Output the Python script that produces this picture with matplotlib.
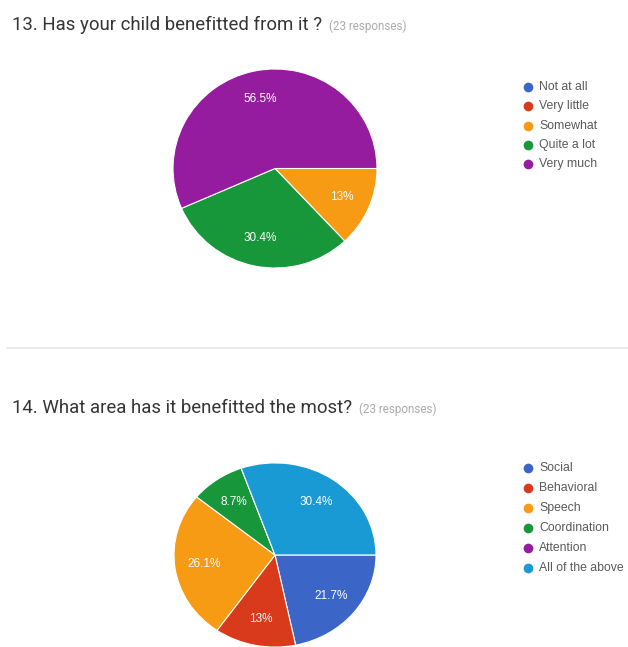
import matplotlib
matplotlib.use("Agg")
import matplotlib.pyplot as plt
from matplotlib.lines import Line2D

plt.rcParams['font.family'] = ['Roboto', 'DejaVu Sans']

# Question 13
q1_title = "13. Has your child benefitted from it ?"
q1_labels = ['Not at all', 'Very little', 'Somewhat', 'Quite a lot', 'Very much']
q1_values = [0.0, 0.0, 13.0, 30.4, 56.5]

# Question 14
q2_title = "14. What area has it benefitted the most?"
q2_labels = ['Social', 'Behavioral', 'Speech', 'Coordination', 'Attention', 'All of the above']
q2_values = [21.7, 13.0, 26.1, 8.7, 0.0, 30.4]

responses = "(23 responses)"
colors = ['#3b66c8', '#d93a1c', '#f79a14', '#17963a', '#951c9e', '#1a9ad4']

W, H = 628, 647
fig = plt.figure(figsize=(W / 100, H / 100), dpi=100)
fig.patch.set_facecolor('white')


def px_axes(left, top, width, height):
    return fig.add_axes([left / W, 1 - (top + height) / H, width / W, height / H])


def draw_pie(ax, values):
    wedges, texts = ax.pie(
        [v if v > 0 else 0 for v in values],
        colors=colors, startangle=0, counterclock=False,
        labels=[f"{v:g}%" if v > 0 else "" for v in values],
        labeldistance=0.71,
        wedgeprops=dict(edgecolor='white', linewidth=0.8),
        textprops=dict(color='white', fontsize=8.5, ha='center', va='center',
                       family=['Liberation Sans']))
    ax.set_aspect('auto')
    ax.set_xlim(-1.01, 1.01)
    ax.set_ylim(-1.01, 1.01)
    ax.axis('off')


ax1 = px_axes(172, 68, 206, 201)
draw_pie(ax1, q1_values)

ax2 = px_axes(173, 462, 204, 186)
draw_pie(ax2, q2_values)

# overlay in pixel coordinates for titles, legends and the divider
ov = fig.add_axes([0, 0, 1, 1], zorder=5)
ov.set_xlim(0, W)
ov.set_ylim(H, 0)
ov.axis('off')
ov.patch.set_alpha(0)

renderer = fig.canvas.get_renderer()
for title, y in [(q1_title, 25), (q2_title, 408)]:
    t = ov.text(12, y, title, fontsize=13.4, color='#353535', va='center', ha='left')
    bb = t.get_window_extent(renderer=renderer)
    x_end = bb.x1 / fig.dpi * 100
    ov.text(x_end + 7, y + 1, responses, fontsize=8.4, color='#ababab',
            va='center', ha='left')

ov.add_line(Line2D([7, W], [348, 348], color='#ebebeb', linewidth=1.5))


def draw_legend(labels, y0, step):
    for i, lab in enumerate(labels):
        y = y0 + i * step
        ov.plot([528], [y], marker='o', markersize=7, color=colors[i], markeredgewidth=0)
        ov.text(539, y, lab, fontsize=8.8, color='#5a5a5a', va='center', ha='left',
                family=['Liberation Sans'])


draw_legend(q1_labels, 87, 19.3)
draw_legend(q2_labels, 468, 20)

fig.savefig('out.png', dpi=100)
